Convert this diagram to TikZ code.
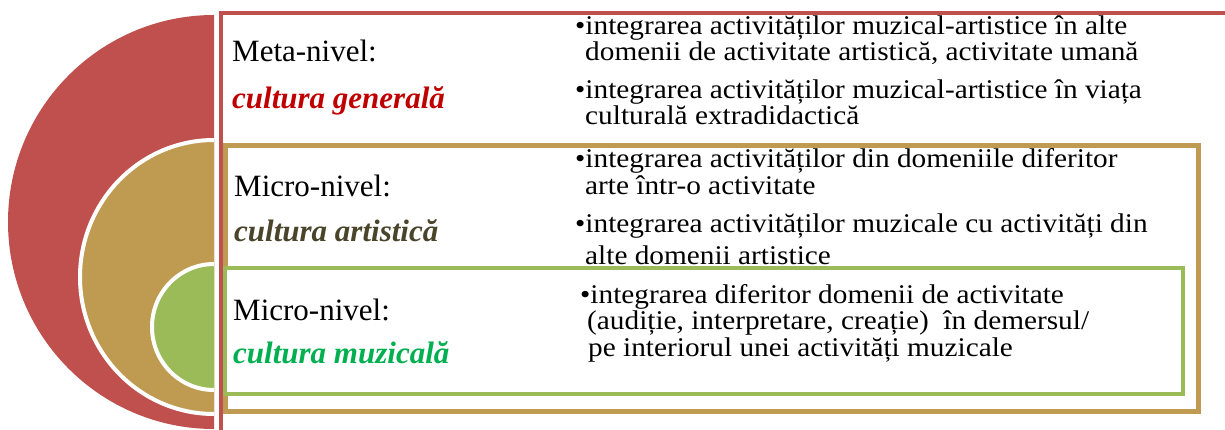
\documentclass[tikz,border=0pt]{standalone}
\usepackage{graphicx}
\usepackage{fontspec}
\setmainfont{Liberation Serif}
\definecolor{cred}{HTML}{C0504D}
\definecolor{ctan}{HTML}{BF9B52}
\definecolor{cgreen}{HTML}{9BBB59}
\definecolor{tred}{HTML}{C00000}
\definecolor{tolive}{HTML}{4A452A}
\definecolor{tgreen}{HTML}{00B050}
\newcommand{\widetxt}[1]{\scalebox{1.085}[1]{#1}}
\tikzset{
  lab/.style={anchor=base west, inner sep=0pt, font=\fontsize{31}{36}\selectfont},
  emlab/.style={lab, font=\fontsize{31}{36}\selectfont\bfseries\itshape},
  txt/.style={anchor=base west, inner sep=0pt, font=\fontsize{27}{30}\selectfont},
  halfdisc/.style={draw=white, line width=4pt},
}
\begin{document}
\begin{tikzpicture}[x=1pt,y=-1pt]
\useasboundingbox (0,0) rectangle (1225,430);
\clip (0,0) rectangle (1225,430);
% half discs
\fill[cred] (214,429) arc[start angle=90,end angle=270,x radius=206,y radius=207] -- cycle;
\filldraw[fill=ctan, halfdisc] (214,414) arc[start angle=90,end angle=270,x radius=134,y radius=137];
\filldraw[fill=cgreen, halfdisc] (214,390) arc[start angle=90,end angle=270,x radius=62,y radius=63];
% boxes
\draw[cred, line width=4pt, fill=white] (221,13) rectangle (1240,445);
\draw[ctan, line width=5pt, fill=white] (225,146) rectangle (1198,411);
\draw[cgreen, line width=4pt, fill=white] (225,268) rectangle (1183,394);
% labels
\node[lab] (l1) at (232,62) {Meta-nivel:};
\node[emlab, text=tred] (c1) at (232,109) {cultura general\u{a}};
\node[lab] (l2) at (234,197) {Micro-nivel:};
\node[emlab, text=tolive] (c2) at (234,242) {cultura artistic\u{a}};
\node[lab] (l3) at (233,320) {Micro-nivel:};
\node[emlab, text=tgreen] (c3) at (233,363) {cultura muzical\u{a}};
% red level text
\node[txt] (r1) at (575,35) {\widetxt{•integrarea activităților muzical-artistice în alte}};
\node[txt] (r2) at (585,61) {\widetxt{domenii de activitate artistică, activitate umană}};
\node[txt] (r3) at (575,99) {\widetxt{•integrarea activităților muzical-artistice în viața}};
\node[txt] (r4) at (585,125) {\widetxt{culturală extradidactică}};
% tan level text
\node[txt] (t1) at (575,168) {\widetxt{•integrarea activităților din domeniile diferitor}};
\node[txt] (t2) at (585,195) {\widetxt{arte într-o activitate}};
\node[txt] (t3) at (575,233) {\widetxt{•integrarea activităților muzicale cu activități din}};
\node[txt] (t4) at (585,264) {\widetxt{alte domenii artistice}};
% green level text
\node[txt] (g1) at (580,303) {\widetxt{•integrarea diferitor domenii de activitate}};
\node[txt] (g2) at (587,329) {\widetxt{(audiție, interpretare, creație)\ \ în demersul/}};
\node[txt] (g3) at (588,356) {\widetxt{pe interiorul unei activități muzicale}};
\end{tikzpicture}
\end{document}
